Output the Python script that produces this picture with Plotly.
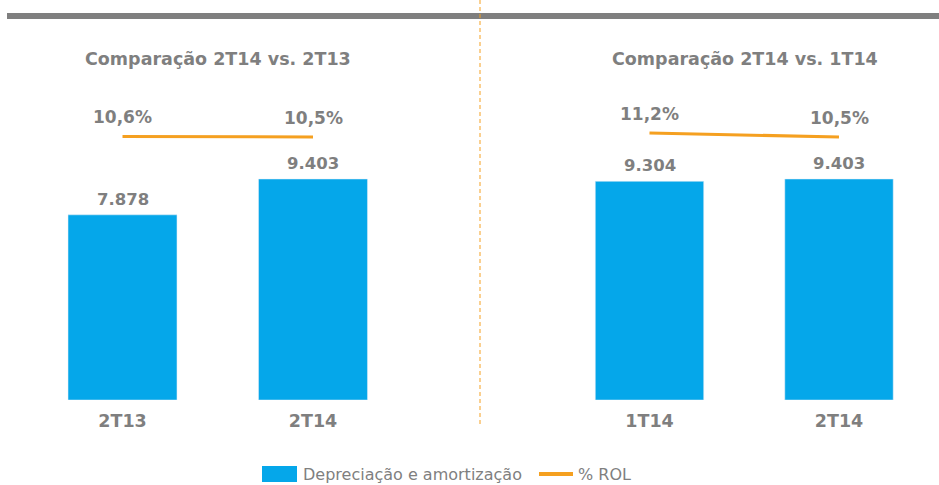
import plotly.graph_objects as go

W, H = 939, 485

categories_left = ["2T13", "2T14"]
dep_left = [7878, 9403]
rol_left = [10.6, 10.5]

categories_right = ["1T14", "2T14"]
dep_right = [9304, 9403]
rol_right = [11.2, 10.5]

titles = ["Comparação 2T14 vs. 2T13", "Comparação 2T14 vs. 1T14"]
legend_labels = ["Depreciação e amortização", "% ROL"]

BLUE = "#05A7EA"
ORANGE = "#F5A020"
GRAY = "#7F7F7F"
FONT = "DejaVu Sans"


def px(x):
    return x / W


def py(y):
    return (H - y) / H


def fmt_int(v):
    return f"{v:,}".replace(",", ".")


def fmt_pct(v):
    return f"{v:.1f}%".replace(".", ",")


fig = go.Figure()

panels = [
    (categories_left, dep_left, rol_left, "x", "y", "y3"),
    (categories_right, dep_right, rol_right, "x2", "y2", "y4"),
]

annotations = []
for cats, deps, rols, xa, ya, ya2 in panels:
    fig.add_trace(go.Bar(x=cats, y=deps, marker_color=BLUE, xaxis=xa, yaxis=ya,
                         showlegend=False, hoverinfo="skip"))
    fig.add_trace(go.Scatter(x=cats, y=rols, mode="lines", line=dict(color=ORANGE, width=3),
                             xaxis=xa, yaxis=ya2, showlegend=False, hoverinfo="skip"))
    for c, d in zip(cats, deps):
        annotations.append(dict(x=c, y=d, xref=xa, yref=ya, text=fmt_int(d), showarrow=False,
                                yanchor="bottom", yshift=4,
                                font=dict(family=FONT, size=16.5, color=GRAY, weight="bold")))
    for c, r in zip(cats, rols):
        annotations.append(dict(x=c, y=r, xref=xa, yref=ya2, text=fmt_pct(r), showarrow=False,
                                yanchor="bottom", yshift=7,
                                font=dict(family=FONT, size=17, color=GRAY, weight="bold")))

for t, xc in zip(titles, [218, 745]):
    annotations.append(dict(x=px(xc), y=py(59), xref="paper", yref="paper", text=t,
                            showarrow=False, xanchor="center", yanchor="middle",
                            font=dict(family=FONT, size=17.5, color=GRAY, weight="bold")))

# legend (manual)
LEG_Y = 474
annotations.append(dict(x=px(301), y=py(LEG_Y), xref="paper", yref="paper", text=legend_labels[0],
                        showarrow=False, xanchor="left", yanchor="middle",
                        font=dict(family=FONT, size=16, color=GRAY)))
annotations.append(dict(x=px(576), y=py(LEG_Y), xref="paper", yref="paper", text=legend_labels[1],
                        showarrow=False, xanchor="left", yanchor="middle",
                        font=dict(family=FONT, size=16, color=GRAY)))

shapes = [
    dict(type="rect", xref="paper", yref="paper", x0=px(7), x1=px(939), y0=py(19), y1=py(13),
         fillcolor=GRAY, line=dict(width=0)),
    dict(type="line", xref="paper", yref="paper", x0=px(480), x1=px(480), y0=py(0), y1=py(425),
         line=dict(color=ORANGE, width=1, dash="4px,3px")),
    dict(type="rect", xref="paper", yref="paper", x0=px(262), x1=px(297), y0=py(LEG_Y + 8),
         y1=py(LEG_Y - 8), fillcolor=BLUE, line=dict(width=0)),
    dict(type="line", xref="paper", yref="paper", x0=px(539), x1=px(573), y0=py(LEG_Y), y1=py(LEG_Y),
         line=dict(color=ORANGE, width=4)),
]

Y_TOP = 20
Y_BASE = 400
bar_range = [0, 9403 * (Y_BASE - Y_TOP) / 221]
slope = 5.714
lo = 10.5 - (Y_BASE - 137) / slope
line_range = [lo, lo + (Y_BASE - Y_TOP) / slope]

ydom = [py(Y_BASE), py(Y_TOP)]
xcommon = dict(type="category", showgrid=False, zeroline=False, showline=False, ticks="",
               tickfont=dict(family=FONT, size=17.5, color=GRAY, weight="bold"),
               ticklabelstandoff=8, fixedrange=True)
ycommon = dict(showgrid=False, zeroline=False, showline=False, showticklabels=False, fixedrange=True)

fig.update_layout(
    width=W, height=H,
    margin=dict(l=0, r=0, t=0, b=0),
    paper_bgcolor="white", plot_bgcolor="white",
    bargap=0.428,
    xaxis=dict(domain=[px(27.25), px(408.25)], anchor="y", range=[-0.5, 1.5], **xcommon),
    xaxis2=dict(domain=[px(554.75), px(933.75)], anchor="y2", range=[-0.5, 1.5], **xcommon),
    yaxis=dict(domain=ydom, anchor="x", range=bar_range, **ycommon),
    yaxis2=dict(domain=ydom, anchor="x2", range=bar_range, **ycommon),
    yaxis3=dict(overlaying="y", anchor="x", range=line_range, visible=False),
    yaxis4=dict(overlaying="y2", anchor="x2", range=line_range, visible=False),
    annotations=annotations,
    shapes=shapes,
    showlegend=False,
)

fig.write_html("out.html", config={"displayModeBar": False},
               post_script="document.body.style.margin='0';document.body.style.padding='0';"
                           "document.body.style.overflow='hidden';")
